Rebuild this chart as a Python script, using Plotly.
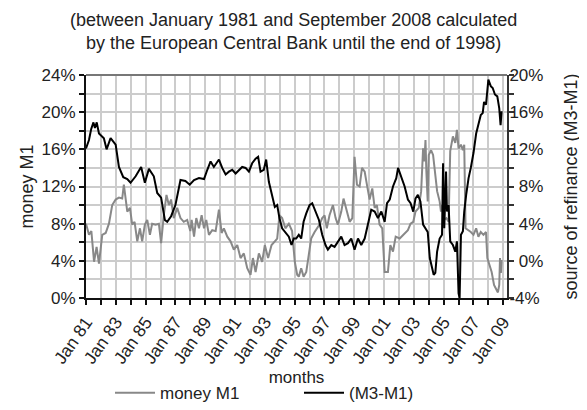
import plotly.graph_objects as go

# ---- data ----
m1_years = [1981.0, 1981.2, 1981.36, 1981.54, 1981.71, 1981.87, 1982.09, 1982.32, 1982.54, 1982.76,
            1982.99, 1983.21, 1983.43, 1983.54, 1983.77, 1983.95, 1984.1, 1984.26, 1984.44, 1984.62,
            1984.77, 1984.95, 1985.11, 1985.29, 1985.44, 1985.67, 1985.89, 1986.04, 1986.22, 1986.4,
            1986.56, 1986.71, 1986.89, 1987.12, 1987.34, 1987.56, 1987.79, 1988.0, 1988.09, 1988.25,
            1988.4, 1988.58, 1988.76, 1988.92, 1989.07, 1989.25, 1989.47, 1989.7, 1989.92, 1990.1,
            1990.25, 1990.48, 1990.7, 1990.92, 1991.15, 1991.37, 1991.59, 1991.82, 1992.04, 1992.2,
            1992.38, 1992.6, 1992.82, 1993.0, 1993.22, 1993.45, 1993.67, 1993.83, 1993.98, 1994.16,
            1994.38, 1994.61, 1994.83, 1995.01, 1995.17, 1995.28, 1995.44, 1995.6, 1995.78, 1995.96,
            1996.11, 1996.34, 1996.49, 1996.67, 1996.85, 1997.01, 1997.16, 1997.34, 1997.57, 1997.75,
            1997.9, 1998.13, 1998.28, 1998.46, 1998.69, 1998.87, 1999.02, 1999.18, 1999.36, 1999.52,
            1999.7, 1999.85, 2000.03, 2000.21, 2000.37, 2000.52, 2000.7, 2000.88, 2001.04, 2001.26,
            2001.42, 2001.6, 2001.78, 2002.05, 2002.27, 2002.6, 2002.78, 2002.96, 2003.11, 2003.33,
            2003.49, 2003.62, 2003.71, 2003.78, 2003.84, 2003.93, 2004.0, 2004.16, 2004.29, 2004.44,
            2004.56, 2004.73, 2004.82, 2004.89, 2005.0, 2005.18, 2005.33, 2005.44, 2005.62, 2005.78,
            2005.89, 2006.0, 2006.16, 2006.29, 2006.38, 2006.47, 2006.67, 2006.82, 2007.0, 2007.18,
            2007.33, 2007.49, 2007.67, 2007.84, 2007.93, 2008.07, 2008.22, 2008.38, 2008.51, 2008.64,
            2008.73, 2008.78, 2008.84, 2008.89]
m1_values = [8.0, 6.8, 7.2, 3.9, 5.5, 3.7, 6.8, 7.0, 8.0, 10.0,
             10.6, 10.8, 10.7, 12.2, 9.3, 9.7, 7.9, 8.2, 6.1, 7.5,
             6.1, 7.9, 8.4, 6.8, 8.0, 7.9, 8.0, 5.9, 8.9, 11.1,
             10.0, 10.6, 8.6, 9.7, 8.6, 8.2, 8.4, 7.2, 8.4, 6.6,
             8.6, 7.5, 8.9, 7.5, 8.4, 6.8, 7.3, 7.2, 9.5, 7.0,
             7.5, 6.6, 6.1, 5.2, 5.7, 4.3, 4.8, 3.2, 2.5, 4.3,
             2.8, 4.8, 3.9, 5.7, 4.3, 5.7, 6.1, 6.4, 8.9, 8.6,
             7.5, 8.0, 7.2, 3.9, 2.5, 2.3, 3.2, 2.3, 2.8, 4.6,
             6.4, 7.1, 7.5, 7.9, 8.6, 8.9, 7.5, 8.9, 10.0, 8.6,
             7.9, 9.3, 10.7, 9.7, 8.2, 8.6, 15.2, 12.2, 12.0, 14.0,
             13.6, 12.2, 10.6, 11.8, 9.7, 10.0, 7.9, 7.5, 2.8, 2.8,
             5.7, 5.0, 6.6, 6.4, 6.8, 7.3, 8.0, 8.2, 9.3, 9.7,
             11.5, 16.1, 14.7, 17.0, 13.6, 10.4, 15.4, 15.9, 15.4, 13.2,
             11.5, 10.4, 9.3, 10.0, 8.4, 8.6, 8.2, 15.8, 17.4, 16.7,
             18.1, 16.1, 16.5, 15.9, 16.5, 7.5, 7.3, 7.1, 6.8, 7.5,
             6.6, 7.1, 6.8, 7.1, 4.3, 3.6, 2.8, 1.4, 0.9, 0.6,
             1.4, 4.3, 2.7, 4.1]

m3m1_years = [1981.0, 1981.2, 1981.35, 1981.5, 1981.6, 1981.72, 1981.87, 1982.05, 1982.2, 1982.38,
              1982.65, 1982.99, 1983.21, 1983.5, 1983.77, 1983.99, 1984.33, 1984.7, 1984.95, 1985.22,
              1985.55, 1985.78, 1986.04, 1986.29, 1986.45, 1986.71, 1987.0, 1987.34, 1987.67, 1987.96,
              1988.25, 1988.58, 1988.92, 1989.14, 1989.36, 1989.58, 1989.92, 1990.14, 1990.37, 1990.59,
              1990.81, 1991.04, 1991.26, 1991.48, 1991.71, 1991.93, 1992.15, 1992.38, 1992.55, 1992.71,
              1992.93, 1993.09, 1993.27, 1993.49, 1993.67, 1993.83, 1993.98, 1994.16, 1994.38, 1994.61,
              1994.79, 1994.94, 1995.1, 1995.28, 1995.44, 1995.6, 1995.78, 1996.0, 1996.18, 1996.4,
              1996.63, 1996.85, 1997.07, 1997.23, 1997.46, 1997.68, 1997.9, 1998.13, 1998.35, 1998.58,
              1998.8, 1999.02, 1999.25, 1999.47, 1999.7, 1999.92, 2000.14, 2000.37, 2000.59, 2000.82,
              2001.04, 2001.2, 2001.38, 2001.6, 2001.82, 2001.94, 2002.16, 2002.38, 2002.6, 2002.78,
              2002.96, 2003.11, 2003.27, 2003.44, 2003.62, 2003.78, 2003.93, 2004.07, 2004.22, 2004.33,
              2004.44, 2004.56, 2004.73, 2004.89, 2004.96, 2005.04, 2005.16, 2005.22, 2005.33, 2005.44,
              2005.62, 2005.78, 2005.89, 2006.0, 2006.07, 2006.16, 2006.29, 2006.38, 2006.51, 2006.67,
              2006.82, 2007.0, 2007.18, 2007.33, 2007.49, 2007.62, 2007.71, 2007.84, 2008.0, 2008.16,
              2008.29, 2008.44, 2008.6, 2008.73, 2008.82, 2008.89]
m3m1_values = [12.1, 13.0, 14.2, 14.9, 14.3, 14.9, 13.7, 13.4, 13.2, 12.0,
               13.2, 12.5, 10.1, 9.0, 8.8, 8.4, 9.1, 10.1, 8.4, 9.9,
               9.1, 7.3, 6.8, 4.4, 4.2, 4.8, 6.0, 8.7, 8.6, 8.2,
               8.7, 8.9, 8.8, 9.8, 10.7, 10.1, 10.9, 10.0, 9.3, 9.6,
               9.8, 9.4, 9.8, 10.1, 10.0, 9.6, 10.5, 11.0, 11.2, 9.6,
               9.8, 10.9, 8.5, 6.9, 5.8, 6.0, 4.6, 3.5, 3.1, 2.6,
               1.7, 2.4, 2.4, 2.8, 2.4, 4.2, 5.1, 6.0, 6.2, 5.3,
               4.4, 2.8, 1.7, 1.2, 1.7, 1.5, 2.1, 2.6, 1.7, 1.9,
               2.4, 1.2, 2.4, 1.7, 2.4, 3.9, 5.5, 5.3, 4.6, 5.3,
               4.2, 6.2, 6.6, 8.0, 8.9, 10.0, 8.9, 8.0, 6.6, 6.2,
               5.3, 6.7, 7.1, 6.4, 3.9, 3.5, 3.1, 0.3, -0.8, -1.5,
               -1.3, 1.0, 2.4, 2.8, 10.5, 3.5, 9.6, 5.3, 6.0, 2.1,
               1.7, 1.0, 2.1, -3.5, -4.0, 2.8, 3.2, 5.3, 7.1, 8.9,
               10.0, 11.6, 13.7, 14.6, 15.7, 15.9, 17.1, 16.8, 19.5, 18.8,
               18.6, 17.9, 17.7, 16.4, 14.6, 16.1]

x_tick_vals = [1981, 1983, 1985, 1987, 1989, 1991, 1993, 1995, 1997, 1999, 2001, 2003, 2005, 2007, 2009]
x_tick_text = ["Jan 81", "Jan 83", "Jan 85", "Jan 87", "Jan 89", "Jan 91", "Jan 93", "Jan 95",
               "Jan 97", "Jan 99", "Jan 01", "Jan 03", "Jan 05", "Jan 07", "Jan 09"]
left_tick_vals = [0, 4, 8, 12, 16, 20, 24]
left_tick_text = ["0%", "4%", "8%", "12%", "16%", "20%", "24%"]
right_tick_vals = [-4, 0, 4, 8, 12, 16, 20]
right_tick_text = ["-4%", "\u20070%", "\u20074%", "\u20078%", "12%", "16%", "20%"]

title_lines = ["(between January 1981 and September 2008 calculated",
               "by the European Central Bank until the end of 1998)"]

FONT = "Liberation Sans, Arial, sans-serif"
TXT = "#222222"
GRID = "#cccccc"

fig = go.Figure()
fig.add_trace(go.Scatter(x=m1_years, y=m1_values, mode="lines", name="money M1",
                         line=dict(color="#888888", width=2), yaxis="y"))
fig.add_trace(go.Scatter(x=m3m1_years, y=m3m1_values, mode="lines", name="(M3-M1)",
                         line=dict(color="#000000", width=2), yaxis="y2"))

fig.update_layout(
    width=579, height=402,
    margin=dict(l=78, r=80, t=67, b=112, autoexpand=False),
    paper_bgcolor="white", plot_bgcolor="white",
    font=dict(family=FONT, size=17, color=TXT),
    showlegend=True,
    legend=dict(orientation="h", x=0.057, xanchor="left", y=-0.346, yanchor="top",
                font=dict(family=FONT, size=17, color=TXT),
                itemwidth=40,
                entrywidth=134, entrywidthmode="pixels",
                bgcolor="rgba(0,0,0,0)"),
    xaxis=dict(range=[1981, 2009.25], tickmode="array", tickvals=x_tick_vals, ticktext=x_tick_text,
               tickangle=-55, ticks="outside", ticklen=5, tickwidth=1.5, tickcolor="#111",
               showgrid=True, gridcolor=GRID, gridwidth=1.5, zeroline=False,
               showline=True, linecolor="#111", linewidth=2,
               tickfont=dict(family=FONT, size=17.5, color=TXT),
               minor=dict(tickmode="linear", tick0=1981, dtick=1, ticks="outside", ticklen=5,
                          tickwidth=1.5, tickcolor="#111", showgrid=True, gridcolor=GRID, gridwidth=1.5),
               title=dict(text="months", standoff=2, font=dict(family=FONT, size=17, color=TXT))),
    yaxis=dict(range=[0, 24], tickmode="array", tickvals=left_tick_vals, ticktext=left_tick_text,
               ticks="outside", ticklen=5, tickwidth=1.5, tickcolor="#111",
               showgrid=True, gridcolor=GRID, gridwidth=1.5, zeroline=False,
               showline=True, linecolor="#111", linewidth=2,
               tickfont=dict(family=FONT, size=17, color=TXT),
               minor=dict(tickmode="linear", tick0=0, dtick=2, ticks="outside", ticklen=5,
                          tickwidth=1.5, tickcolor="#111", showgrid=True, gridcolor=GRID, gridwidth=1.5),
               title=dict(text="money M1", standoff=3, font=dict(family=FONT, size=18, color=TXT))),
    yaxis2=dict(range=[-4, 20], overlaying="y", side="right", tickmode="array",
                tickvals=right_tick_vals, ticktext=right_tick_text,
                ticks="outside", ticklen=5, tickwidth=1.5, tickcolor="#333",
                ticklabelstandoff=-8,
                showgrid=False, zeroline=False,
                showline=True, linecolor="#333", linewidth=2,
                tickfont=dict(family=FONT, size=17, color=TXT),
                minor=dict(tickmode="linear", tick0=-4, dtick=2, ticks="outside", ticklen=5,
                           tickwidth=1.5, tickcolor="#333"),
                title=dict(text="source of refinance (M3-M1)", standoff=22,
                           font=dict(family=FONT, size=18, color=TXT))),
    shapes=[dict(type="line", xref="paper", yref="paper", x0=0, x1=1, y0=1, y1=1,
                 line=dict(color="#777777", width=2))],
    annotations=[dict(text="<br>".join(title_lines), xref="paper", yref="paper",
                      x=0.493, y=1.197, xanchor="center", yanchor="middle", showarrow=False,
                      font=dict(family=FONT, size=18, color=TXT))],
)

fig.write_html("out.html")
